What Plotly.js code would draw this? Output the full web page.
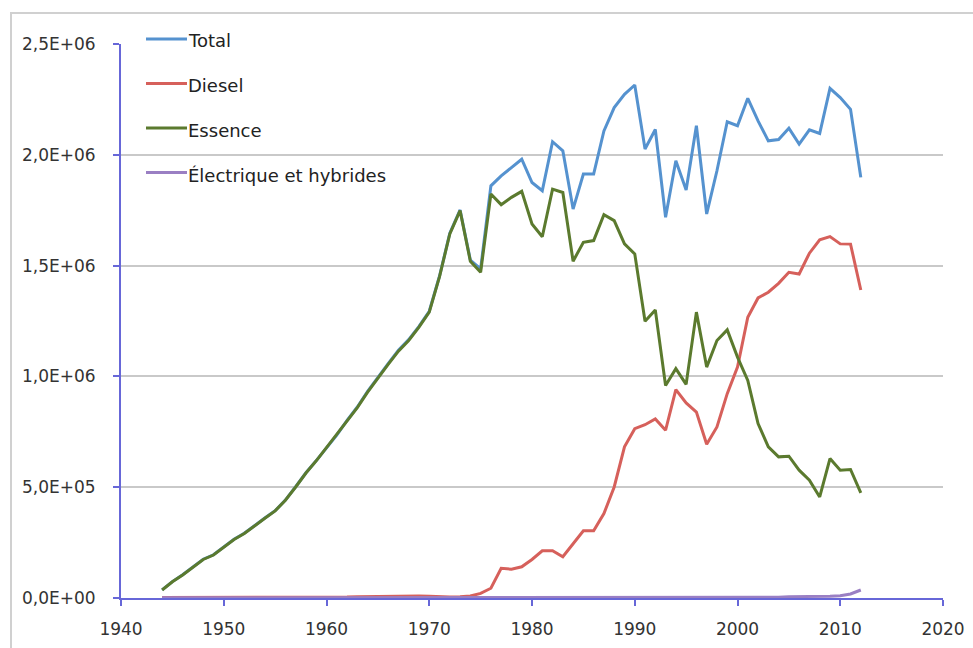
<!DOCTYPE html>
<html>
<head>
<meta charset="utf-8">
<script src="https://cdn.plot.ly/plotly-3.0.1.min.js"></script>
<style>
html,body{margin:0;padding:0;background:#fff;}
#chart{width:973px;height:648px;}
</style>
</head>
<body>
<div id="chart"></div>
<script>
const years = [1944,1945,1946,1947,1948,1949,1950,1951,1952,1953,1954,1955,1956,1957,1958,1959,1960,1961,1962,1963,1964,1965,1966,1967,1968,1969,1970,1971,1972,1973,1974,1975,1976,1977,1978,1979,1980,1981,1982,1983,1984,1985,1986,1987,1988,1989,1990,1991,1992,1993,1994,1995,1996,1997,1998,1999,2000,2001,2002,2003,2004,2005,2006,2007,2008,2009,2010,2011,2012];

const total = [0.037,0.074,0.105,0.142,0.175,0.195,0.228,0.265,0.292,0.328,0.361,0.394,0.442,0.502,0.565,0.620,0.680,0.735,0.801,0.862,0.933,0.998,1.058,1.118,1.166,1.226,1.294,1.453,1.646,1.751,1.525,1.485,1.860,1.905,1.943,1.980,1.875,1.838,2.059,2.018,1.755,1.913,1.913,2.108,2.213,2.273,2.315,2.026,2.114,1.718,1.973,1.841,2.131,1.733,1.928,2.149,2.131,2.255,2.153,2.063,2.069,2.120,2.048,2.113,2.096,2.300,2.258,2.205,1.898];

const diesel = [0.002,0.002,0.002,0.002,0.002,0.002,0.002,0.002,0.002,0.002,0.002,0.002,0.002,0.002,0.002,0.002,0.002,0.002,0.004,0.006,0.007,0.008,0.008,0.009,0.009,0.009,0.008,0.006,0.005,0.006,0.009,0.021,0.044,0.134,0.130,0.141,0.174,0.213,0.213,0.186,0.242,0.303,0.303,0.381,0.501,0.682,0.764,0.782,0.808,0.757,0.940,0.880,0.839,0.694,0.772,0.922,1.042,1.267,1.354,1.380,1.420,1.470,1.462,1.556,1.616,1.631,1.598,1.597,1.390];

const essence = [0.036,0.073,0.104,0.141,0.174,0.194,0.227,0.264,0.291,0.327,0.360,0.393,0.441,0.501,0.564,0.619,0.679,0.734,0.799,0.859,0.929,0.994,1.054,1.114,1.162,1.222,1.290,1.450,1.643,1.748,1.520,1.470,1.823,1.775,1.808,1.835,1.688,1.630,1.845,1.830,1.520,1.605,1.613,1.730,1.703,1.598,1.553,1.249,1.300,0.959,1.035,0.964,1.290,1.042,1.162,1.210,1.087,0.982,0.787,0.682,0.637,0.640,0.577,0.532,0.456,0.629,0.577,0.580,0.474];

const electrique = [0.001,0.001,0.001,0.001,0.001,0.001,0.001,0.001,0.001,0.001,0.001,0.001,0.001,0.001,0.001,0.001,0.001,0.001,0.001,0.001,0.001,0.001,0.001,0.001,0.001,0.001,0.001,0.001,0.001,0.001,0.001,0.001,0.001,0.001,0.001,0.001,0.001,0.001,0.001,0.001,0.001,0.001,0.001,0.001,0.001,0.001,0.001,0.001,0.001,0.001,0.001,0.001,0.001,0.001,0.001,0.001,0.001,0.001,0.001,0.001,0.003,0.006,0.006,0.007,0.007,0.008,0.010,0.018,0.036];

const seriesNames = ["Total","Diesel","Essence","Électrique et hybrides"];
const seriesColors = ["#5592cf","#d6605b","#5b7a2e","#9a7fc3"];

const yTickVals = [0, 500000, 1000000, 1500000, 2000000, 2500000];
const yTickText = ["0,0E+00","5,0E+05","1,0E+06","1,5E+06","2,0E+06","2,5E+06"];
const xTickVals = [1940,1950,1960,1970,1980,1990,2000,2010,2020];

const scale = 1e6;
const seriesData = [total, diesel, essence, electrique];

const traces = seriesData.map((arr, i) => ({
  x: years,
  y: arr.map(v => v * scale),
  type: 'scatter',
  mode: 'lines',
  name: seriesNames[i],
  line: {color: seriesColors[i], width: 3},
  showlegend: false,
  hoverinfo: 'skip'
}));

// geometry of plot area in pixels
const L = 121, R = 943, T = 44, B = 598;
const W = R - L, H = B - T;
const px = x => (x - L) / W;
const py = y => 1 - (y - T) / H;

const legendLineY = [39, 83.5, 128, 172.5];
const legendTextY = [41, 86, 130.5, 175];

const shapes = [];
const annotations = [];
seriesNames.forEach((n, i) => {
  shapes.push({type:'line', xref:'paper', yref:'paper',
    x0: px(146), x1: px(187), y0: py(legendLineY[i]), y1: py(legendLineY[i]),
    line:{color: seriesColors[i], width:3}});
  annotations.push({xref:'paper', yref:'paper', x: px(186), y: py(legendTextY[i]),
    xanchor:'left', yanchor:'middle', text: n, showarrow:false,
    font:{family:'DejaVu Sans', size:18, color:'#222'}});
});
// outer chart border
shapes.push({type:'rect', xref:'paper', yref:'paper', layer:'below',
  x0: px(11), x1: px(1000), y0: py(680), y1: py(13),
  line:{color:'#d0d0d0', width:2}, fillcolor:'rgba(0,0,0,0)'});

const layout = {
  width: 973, height: 648,
  margin: {l: L, r: 973 - R, t: T, b: 648 - B, pad: 0},
  paper_bgcolor: '#fff', plot_bgcolor: '#fff',
  font: {family: 'DejaVu Sans', size: 17, color: '#333'},
  xaxis: {
    range: [1940, 2020], tickvals: xTickVals, ticktext: xTickVals.map(String),
    showgrid: false, zeroline: false,
    showline: true, linecolor: '#6767d8', linewidth: 2,
    ticks: 'outside', ticklen: 6, tickwidth: 2, tickcolor: '#6767d8',
    ticklabelstandoff: 9,
    tickfont: {family: 'DejaVu Sans', size: 17, color: '#333'}
  },
  yaxis: {
    range: [0, 2500000], tickvals: yTickVals, ticktext: yTickText,
    showgrid: true, gridcolor: '#c9c9c9', gridwidth: 2,
    zeroline: false,
    showline: true, linecolor: '#6767d8', linewidth: 2,
    ticks: 'outside', ticklen: 6, tickwidth: 2, tickcolor: '#6767d8',
    ticklabelstandoff: 14,
    tickfont: {family: 'DejaVu Sans', size: 17, color: '#333'}
  },
  shapes: shapes,
  annotations: annotations
};

Plotly.newPlot('chart', traces, layout, {displayModeBar: false, staticPlot: true});
</script>
</body>
</html>
